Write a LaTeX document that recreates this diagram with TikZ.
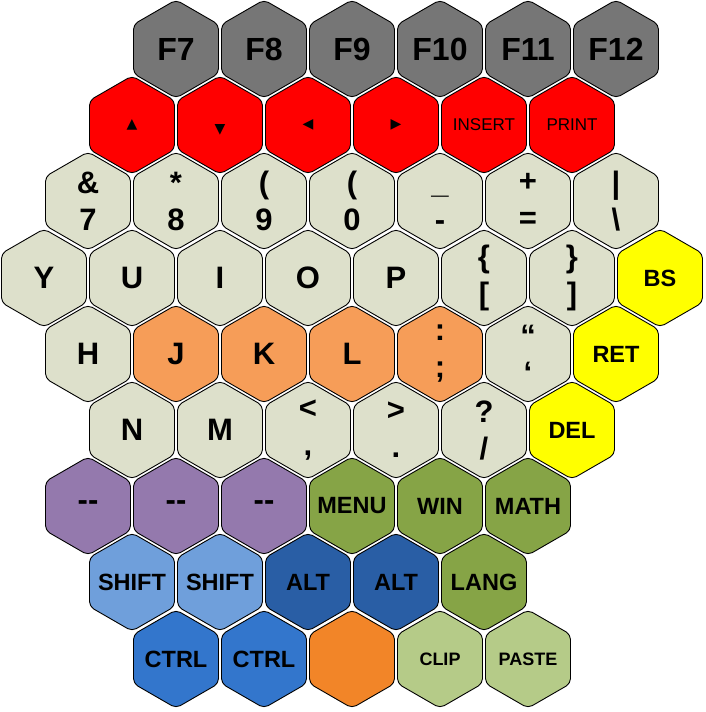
\documentclass[tikz,border=0pt]{standalone}
\usepackage{fontspec}
\setmainfont{Liberation Sans}
\newfontfamily\arrowfont{DejaVu Sans}
\usepackage{tikz}
\usetikzlibrary{shapes.geometric}
\usepackage{xcolor}
\definecolor{fkeygray}{RGB}{118,118,118}
\definecolor{arrowred}{RGB}{255,0,0}
\definecolor{palekey}{RGB}{221,224,203}
\definecolor{homeorange}{RGB}{246,157,88}
\definecolor{edityellow}{RGB}{255,255,0}
\definecolor{blankpurple}{RGB}{148,121,173}
\definecolor{sysgreen}{RGB}{134,164,70}
\definecolor{shiftblue}{RGB}{111,159,219}
\definecolor{altblue}{RGB}{41,94,165}
\definecolor{ctrlblue}{RGB}{51,118,204}
\definecolor{extraorange}{RGB}{242,133,40}
\definecolor{clipgreen}{RGB}{181,203,136}

\begin{document}
\begin{tikzpicture}[
    x=1pt, y=-1pt,
    % negative inner sep keeps every hexagon at its minimum size
    hexkey/.style={regular polygon, regular polygon sides=6, shape border rotate=30,
        minimum size=98.2pt, inner sep=-30pt, draw=black, line width=0.9pt,
        rounded corners=5pt, align=center, text=black},
    bigfont/.style={font=\fontsize{31}{37}\selectfont\bfseries},
    midfont/.style={font=\fontsize{23.5}{28}\selectfont\bfseries},
    smallfont/.style={font=\fontsize{18}{22}\selectfont\bfseries},
    plainfont/.style={font=\fontsize{17}{20}\selectfont},
    arrowglyph/.style={font=\fontsize{14}{16}\selectfont\arrowfont},
    fkey/.style={hexkey, fill=fkeygray, font=\fontsize{32}{38}\selectfont\bfseries},
    arrowkey/.style={hexkey, fill=arrowred},
    textkey/.style={hexkey, fill=palekey, bigfont},
    homekey/.style={hexkey, fill=homeorange, bigfont},
    editkey/.style={hexkey, fill=edityellow, midfont},
    blankkey/.style={hexkey, fill=blankpurple, bigfont},
    syskey/.style={hexkey, fill=sysgreen, midfont},
    shiftkey/.style={hexkey, fill=shiftblue, midfont},
    altkey/.style={hexkey, fill=altblue, midfont},
    ctrlkey/.style={hexkey, fill=ctrlblue, midfont},
    extrakey/.style={hexkey, fill=extraorange},
    clipkey/.style={hexkey, fill=clipgreen, smallfont}
]
\useasboundingbox (0,0) rectangle (705,712);

% function row
\node[fkey] (f7)  at (176,49) {F7};
\node[fkey] (f8)  at (264,49) {F8};
\node[fkey] (f9)  at (352,49) {F9};
\node[fkey] (f10) at (440,49) {F10};
\node[fkey] (f11) at (528,49) {F11};
\node[fkey] (f12) at (616,49) {F12};

% arrows and insert/print
\node[arrowkey, arrowglyph] (up)    at (132,125) {▲};
\node[arrowkey, arrowglyph] (down)  at (220,125) {\raisebox{-4pt}[\height][0pt]{▼}};
\node[arrowkey, arrowglyph] (left)  at (308,125) {◀};
\node[arrowkey, arrowglyph] (right) at (396,125) {▶};
\node[arrowkey, plainfont] (insert) at (484,125) {INSERT};
\node[arrowkey, plainfont] (print)  at (572,125) {PRINT};

% number row
\node[textkey] (k7)        at (88,201)  {\&\\7};
\node[textkey] (k8)        at (176,201) {*\\8};
\node[textkey] (k9)        at (264,201) {(\\9};
\node[textkey] (k0)        at (352,201) {(\\0};
\node[textkey] (minus)     at (440,201) {\vphantom{7}\symbol{95}\\-};
\node[textkey] (equal)     at (528,201) {+\\=};
\node[textkey] (backslash) at (616,201) {|\\\textbackslash};

% top letter row
\node[textkey] (y)      at (44,278)  {Y};
\node[textkey] (u)      at (132,278) {U};
\node[textkey] (i)      at (220,278) {I};
\node[textkey] (o)      at (308,278) {O};
\node[textkey] (p)      at (396,278) {P};
\node[textkey] (lbrack) at (484,278) {\{\\{[}};
\node[textkey] (rbrack) at (572,278) {\}\\{]}};
\node[editkey] (bs)     at (660,278) {BS};

% home row
\node[textkey] (h)         at (88,354)  {H};
\node[homekey] (j)         at (176,354) {J};
\node[homekey] (k)         at (264,354) {K};
\node[homekey] (l)         at (352,354) {L};
\node[homekey] (semicolon) at (440,354) {:\\;};
\node[textkey] (quote)     at (528,354) {“\\‘};
\node[editkey] (ret)       at (616,354) {RET};

% bottom letter row
\node[textkey] (n)      at (132,430) {N};
\node[textkey] (m)      at (220,430) {M};
\node[textkey] (comma)  at (308,430) {<\\,};
\node[textkey] (period) at (396,430) {>\\.};
\node[textkey] (slash)  at (484,430) {?\\/};
\node[editkey] (del)    at (572,430) {DEL};

% blanks and system keys
\node[blankkey] (blankA) at (88,506)  {-\kern0pt-};
\node[blankkey] (blankB) at (176,506) {-\kern0pt-};
\node[blankkey] (blankC) at (264,506) {-\kern0pt-};
\node[syskey]   (menu)   at (352,506) {MENU};
\node[syskey]   (win)    at (440,506) {WIN};
\node[syskey]   (math)   at (528,506) {MATH};

% modifiers
\node[shiftkey] (shiftL) at (132,582) {SHIFT};
\node[shiftkey] (shiftR) at (220,582) {SHIFT};
\node[altkey]   (altL)   at (308,582) {ALT};
\node[altkey]   (altR)   at (396,582) {ALT};
\node[syskey]   (lang)   at (484,582) {LANG};

% bottom row
\node[ctrlkey]  (ctrlL) at (176,659) {CTRL};
\node[ctrlkey]  (ctrlR) at (264,659) {CTRL};
\node[extrakey] (extra) at (352,659) {};
\node[clipkey]  (clip)  at (440,659) {CLIP};
\node[clipkey]  (paste) at (528,659) {PASTE};
\end{tikzpicture}
\end{document}
